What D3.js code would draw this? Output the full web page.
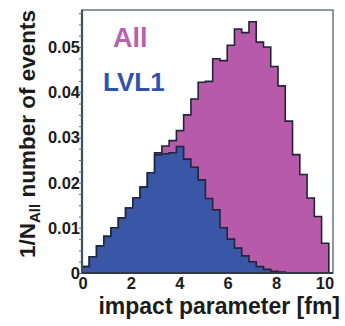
<!DOCTYPE html>
<html>
<head>
<meta charset="utf-8">
<script src="https://cdn.jsdelivr.net/npm/d3@7/dist/d3.min.js"></script>
<style>
  html, body { margin: 0; padding: 0; background: #fff; }
  svg { display: block; }
</style>
</head>
<body>
<svg id="chart"></svg>
<script>
// histogram contents, 0.3 fm bins starting at 0
const binWidth = 0.3;
const allEvents = [0.0014, 0.0036, 0.0060, 0.0081, 0.0100, 0.0122, 0.0144, 0.0166, 0.0190, 0.0222,
    0.0266, 0.0281, 0.0293, 0.0315, 0.0350, 0.0385, 0.0422, 0.0424, 0.0474, 0.0470,
    0.0504, 0.0540, 0.0532, 0.0556, 0.0511, 0.0500, 0.0457, 0.0414, 0.0336, 0.0262,
    0.0218, 0.0166, 0.0125, 0.0066];
const lvl1Events = [0.0014, 0.0036, 0.0060, 0.0081, 0.0100, 0.0122, 0.0144, 0.0166, 0.0190, 0.0222,
    0.0262, 0.0264, 0.0266, 0.0280, 0.0252, 0.0234, 0.0206, 0.0165, 0.0140, 0.0100,
    0.0075, 0.0055, 0.0038, 0.0025, 0.0014, 0.0008, 0.0004, 0.0002, 0, 0,
    0, 0, 0, 0];
const xTicks = [0, 2, 4, 6, 8, 10];
const yTicks = [0, 0.01, 0.02, 0.03, 0.04, 0.05];
const yTickLabels = ['0', '0.01', '0.02', '0.03', '0.04', '0.05'];

const chartHisto = () => {
    const width = 345;
    const height = 326;
    const frame = { left: 82, right: 333, top: 10, bottom: 273 };
    const font = "'Liberation Sans', Arial, sans-serif";

    const x = d3.scaleLinear().domain([0, 10.372]).range([frame.left, frame.right]);
    const y = d3.scaleLinear().domain([0, 0.0582]).range([frame.bottom, frame.top]);

    const svg = d3.select('#chart')
        .attr('width', width)
        .attr('height', height)
        .attr('viewBox', [0, 0, width, height])
        .style('font-family', font)
        .style('font-weight', 'bold');

    // turn bin values into step points
    const steps = vals => {
        const pts = vals.map((v, i) => [i * binWidth, v]);
        pts.push([vals.length * binWidth, vals[vals.length - 1]]);
        return pts;
    };

    const area = d3.area()
        .x(d => x(d[0]))
        .y0(y(0))
        .y1(d => y(d[1]))
        .curve(d3.curveStepAfter);

    const outline = vals => {
        const pts = steps(vals);
        const p = [[pts[0][0], 0]].concat(pts);
        p.push([pts[pts.length - 1][0], 0]);
        return d3.line().x(d => x(d[0])).y(d => y(d[1])).curve(d3.curveStepAfter)(p);
    };

    const series = [
        { vals: allEvents, fill: '#b65aa9' },
        { vals: lvl1Events, fill: '#3a56a6' }
    ];

    series.forEach(s => {
        svg.append('path')
            .attr('d', area(steps(s.vals)))
            .attr('fill', s.fill);
        svg.append('path')
            .attr('d', outline(s.vals))
            .attr('fill', 'none')
            .attr('stroke', '#1e2638')
            .attr('stroke-width', 1.6);
    });

    // frame
    svg.append('rect')
        .attr('x', frame.left)
        .attr('y', frame.top)
        .attr('width', frame.right - frame.left)
        .attr('height', frame.bottom - frame.top)
        .attr('fill', 'none')
        .attr('stroke', '#6f808c')
        .attr('stroke-width', 1.6);
    svg.append('line')
        .attr('x1', frame.left).attr('x2', frame.left)
        .attr('y1', frame.top).attr('y2', frame.bottom)
        .attr('stroke', '#3f4f58')
        .attr('stroke-width', 2.2);
    svg.append('line')
        .attr('x1', frame.left).attr('x2', frame.right)
        .attr('y1', frame.bottom).attr('y2', frame.bottom)
        .attr('stroke', '#2e3a44')
        .attr('stroke-width', 1.8);

    // y axis ticks and labels
    const yAxis = d3.axisLeft(y)
        .tickValues(d3.range(0, 0.0576, 0.0025))
        .tickSize(3)
        .tickFormat('');
    svg.append('g')
        .attr('transform', `translate(${frame.left},0)`)
        .call(yAxis)
        .call(g => g.select('.domain').remove())
        .call(g => g.selectAll('line').attr('stroke', '#5d6e78'));

    svg.append('g')
        .selectAll('text')
        .data(yTicks)
        .join('text')
        .attr('x', 80)
        .attr('y', d => y(d))
        .attr('dy', '0.36em')
        .attr('text-anchor', 'end')
        .attr('font-size', 16.5)
        .attr('fill', '#1c1c1c')
        .text((d, i) => yTickLabels[i]);

    svg.append('g')
        .selectAll('text')
        .data(xTicks)
        .join('text')
        .attr('x', d => x(d) + 1)
        .attr('y', 289)
        .attr('text-anchor', 'middle')
        .attr('font-size', 16.5)
        .attr('fill', '#1c1c1c')
        .text(d => d);

    // axis titles
    svg.append('text')
        .attr('x', 340)
        .attr('y', 314)
        .attr('text-anchor', 'end')
        .attr('font-size', 23)
        .attr('fill', '#1c1c1c')
        .text('impact parameter [fm]');

    const yTitle = svg.append('text')
        .attr('transform', 'translate(35,10) rotate(-90)')
        .attr('text-anchor', 'end')
        .attr('font-size', 22.5)
        .attr('fill', '#1c1c1c');
    yTitle.append('tspan').text('1/N');
    yTitle.append('tspan').attr('dy', 5).attr('font-size', 15).text('All');
    yTitle.append('tspan').attr('dy', -5).text(' number of events');

    // legend words
    svg.append('text')
        .attr('x', 113)
        .attr('y', 47)
        .attr('font-size', 27)
        .attr('fill', '#b862b4')
        .text('All');
    svg.append('text')
        .attr('x', 103)
        .attr('y', 91)
        .attr('font-size', 26)
        .attr('fill', '#2f52b0')
        .text('LVL1');

    return svg.node();
};
chartHisto();
</script>
</body>
</html>
